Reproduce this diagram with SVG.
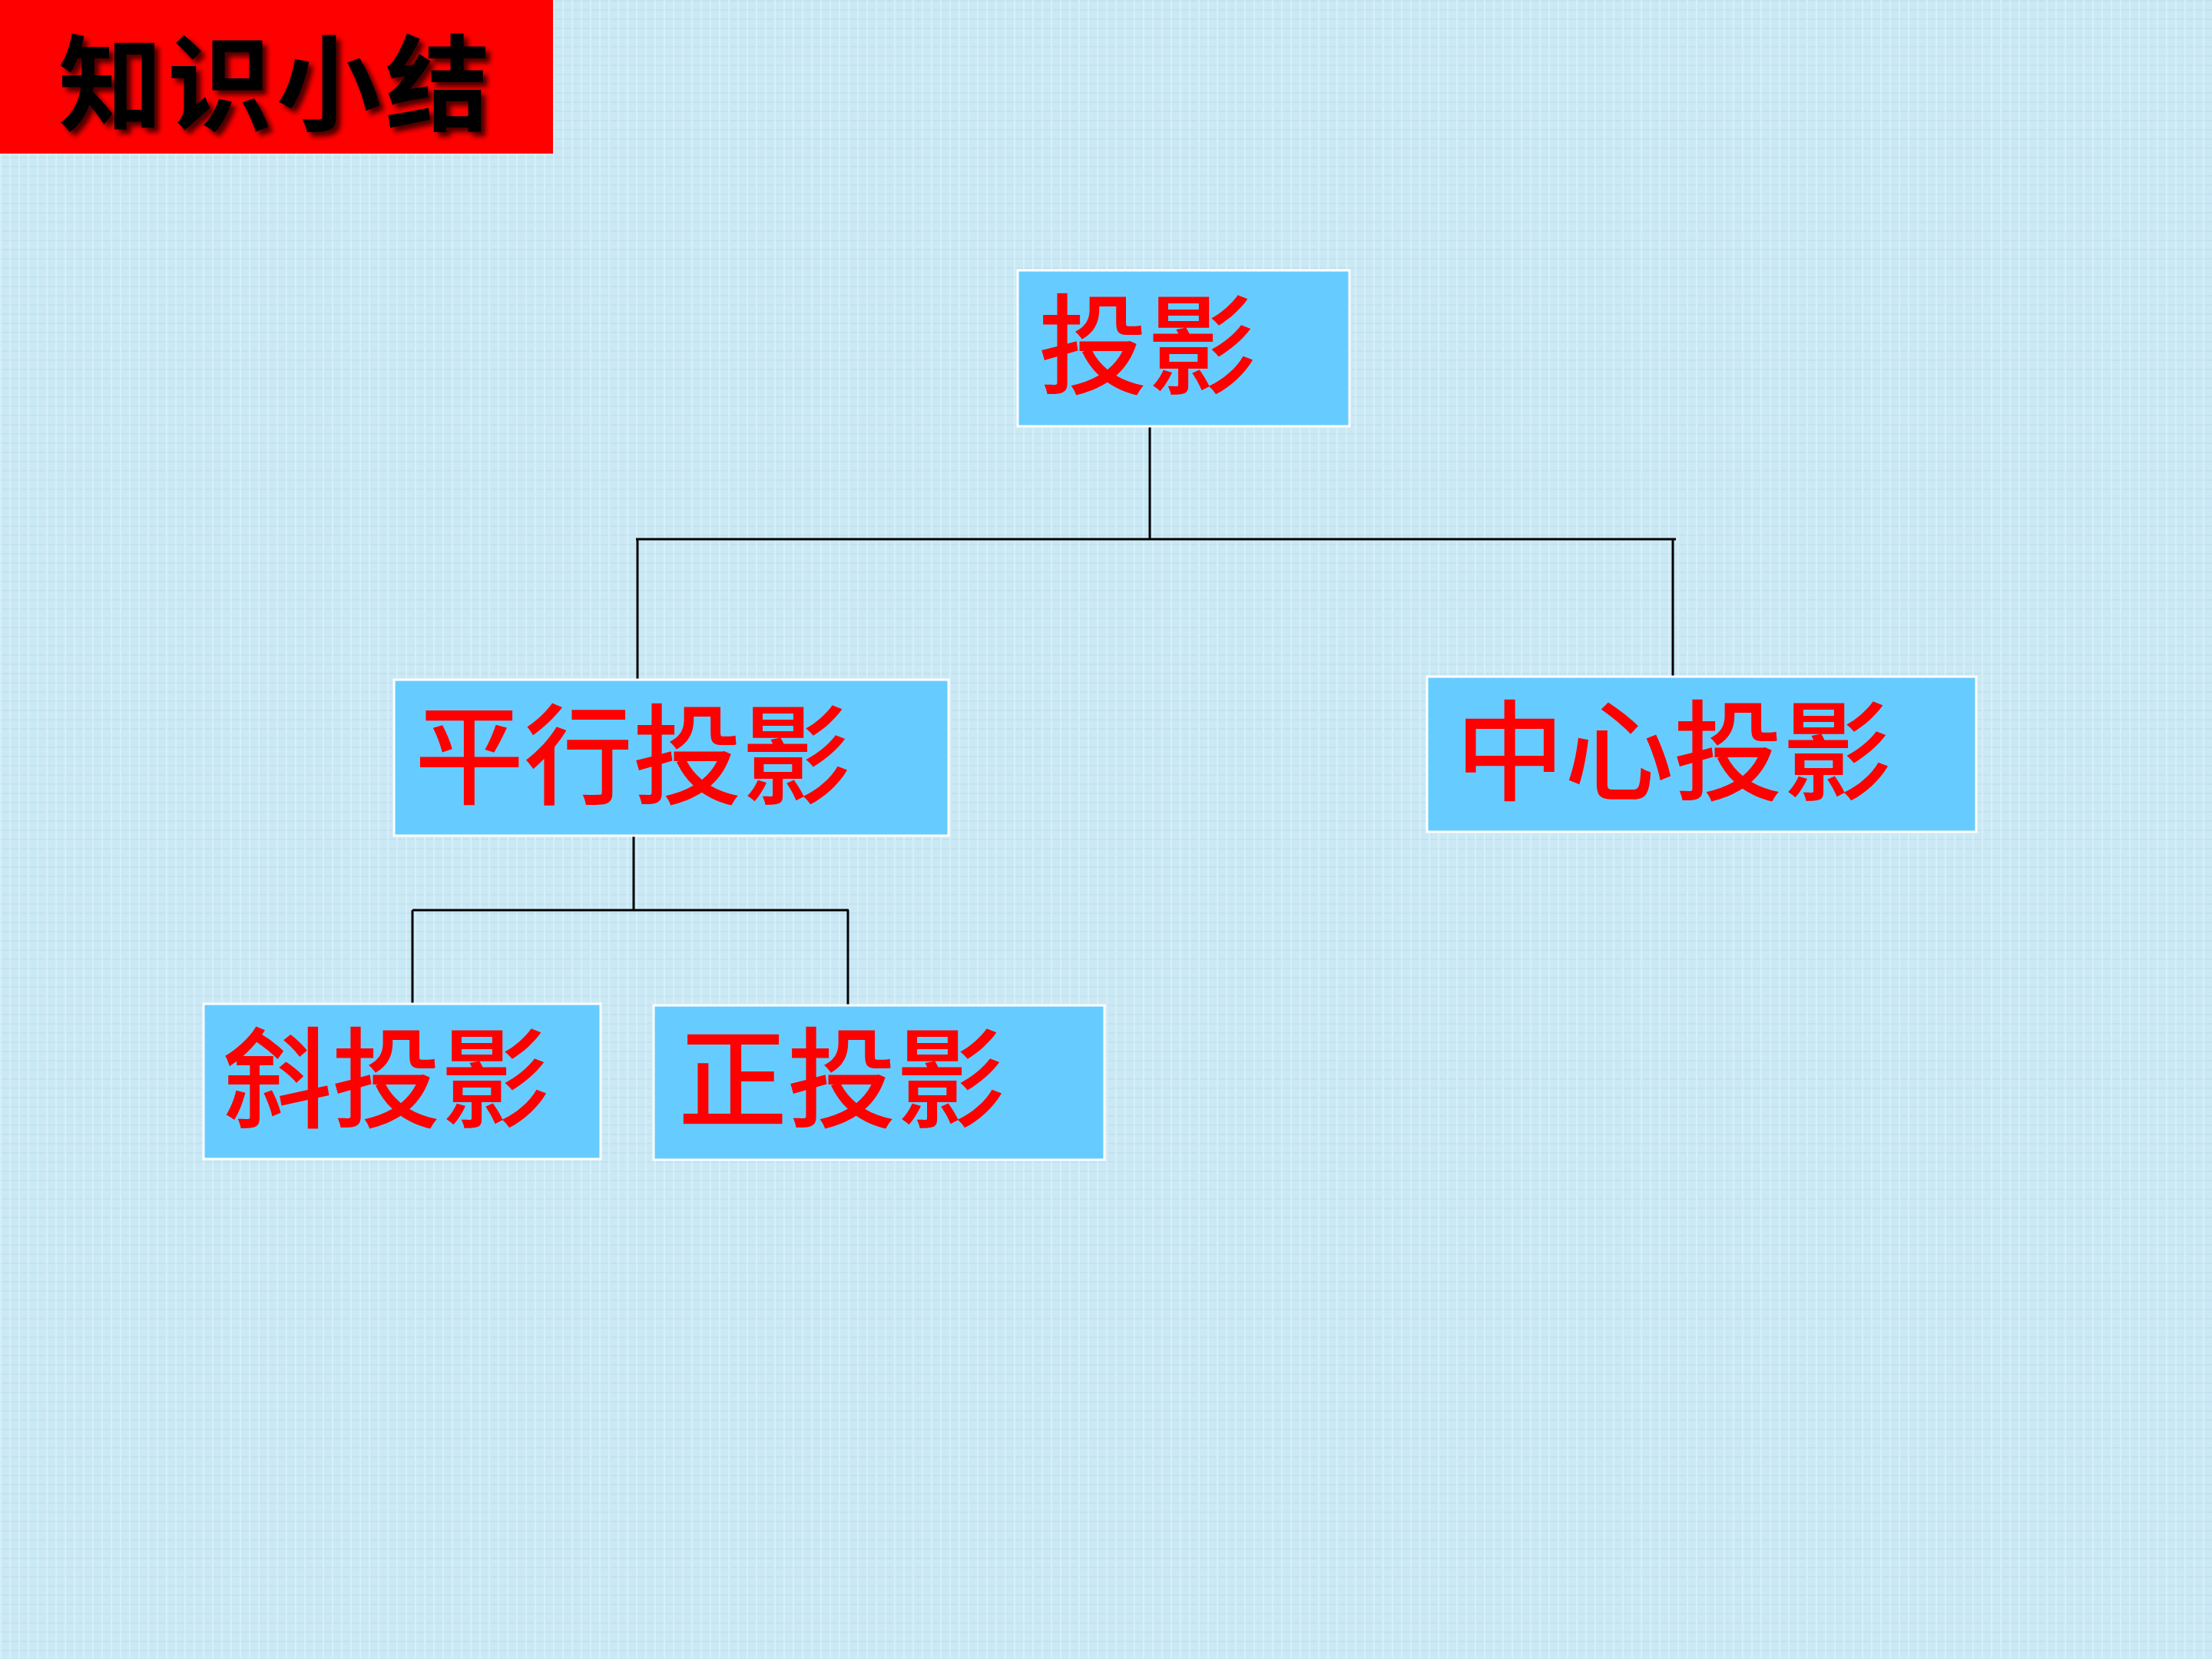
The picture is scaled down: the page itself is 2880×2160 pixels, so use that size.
<svg xmlns="http://www.w3.org/2000/svg" width="2880" height="2160" viewBox="0 0 2880 2160">
<defs>
<pattern id="tex" width="12" height="12" patternUnits="userSpaceOnUse">
<rect width="12" height="12" fill="#CBE9F5"/>
<rect x="0" y="0" width="12" height="2" fill="#C2E2F0"/>
<rect x="0" y="0" width="2" height="12" fill="#D6EFF8"/>
</pattern>
<filter id="sh" x="-10%" y="-10%" width="130%" height="130%">
<feDropShadow dx="6" dy="6" stdDeviation="3" flood-color="#000" flood-opacity="0.7"/>
</filter>
<style>
.box{fill:#66CCFF;stroke:#FFFFFF;stroke-width:3}
.lbl{font-family:"Noto Sans CJK SC","Noto Sans CJK JP",sans-serif;font-size:142px;font-weight:500;fill:#FF0000}
.ttl{font-family:"Noto Sans CJK SC","Noto Sans CJK JP",sans-serif;font-size:136px;letter-spacing:6px;font-weight:700;fill:#000}
.ln{stroke:#000;stroke-width:3;fill:none}
</style>
</defs>
<rect width="2880" height="2160" fill="url(#tex)"/>
<g id="title">
<rect x="0" y="0" width="720" height="200" fill="#FF0000"/>
<text class="ttl" x="76" y="160" filter="url(#sh)">知识小结</text>
</g>
<g id="connectors">
<line class="ln" x1="1497" y1="555" x2="1497" y2="702"/>
<line class="ln" x1="828" y1="702" x2="2182" y2="702"/>
<line class="ln" x1="830" y1="702" x2="830" y2="885"/>
<line class="ln" x1="2178" y1="702" x2="2178" y2="881"/>
<line class="ln" x1="825" y1="1089" x2="825" y2="1185"/>
<line class="ln" x1="537" y1="1185" x2="1105" y2="1185"/>
<line class="ln" x1="537" y1="1185" x2="537" y2="1307"/>
<line class="ln" x1="1104" y1="1185" x2="1104" y2="1308"/>
</g>
<g id="node-touying">
<rect class="box" x="1325" y="352" width="432" height="203"/>
<text class="lbl" x="1352" y="502">投影</text>
</g>
<g id="node-pingxing">
<rect class="box" x="513" y="885" width="722" height="203"/>
<text class="lbl" x="540" y="1036">平行投影</text>
</g>
<g id="node-zhongxin">
<rect class="box" x="1858" y="881" width="715" height="202"/>
<text class="lbl" x="1895" y="1031">中心投影</text>
</g>
<g id="node-xie">
<rect class="box" x="265" y="1307" width="517" height="202"/>
<text class="lbl" x="290" y="1457">斜投影</text>
</g>
<g id="node-zheng">
<rect class="box" x="851" y="1309" width="587" height="201"/>
<text class="lbl" x="883" y="1457">正投影</text>
</g>
</svg>
